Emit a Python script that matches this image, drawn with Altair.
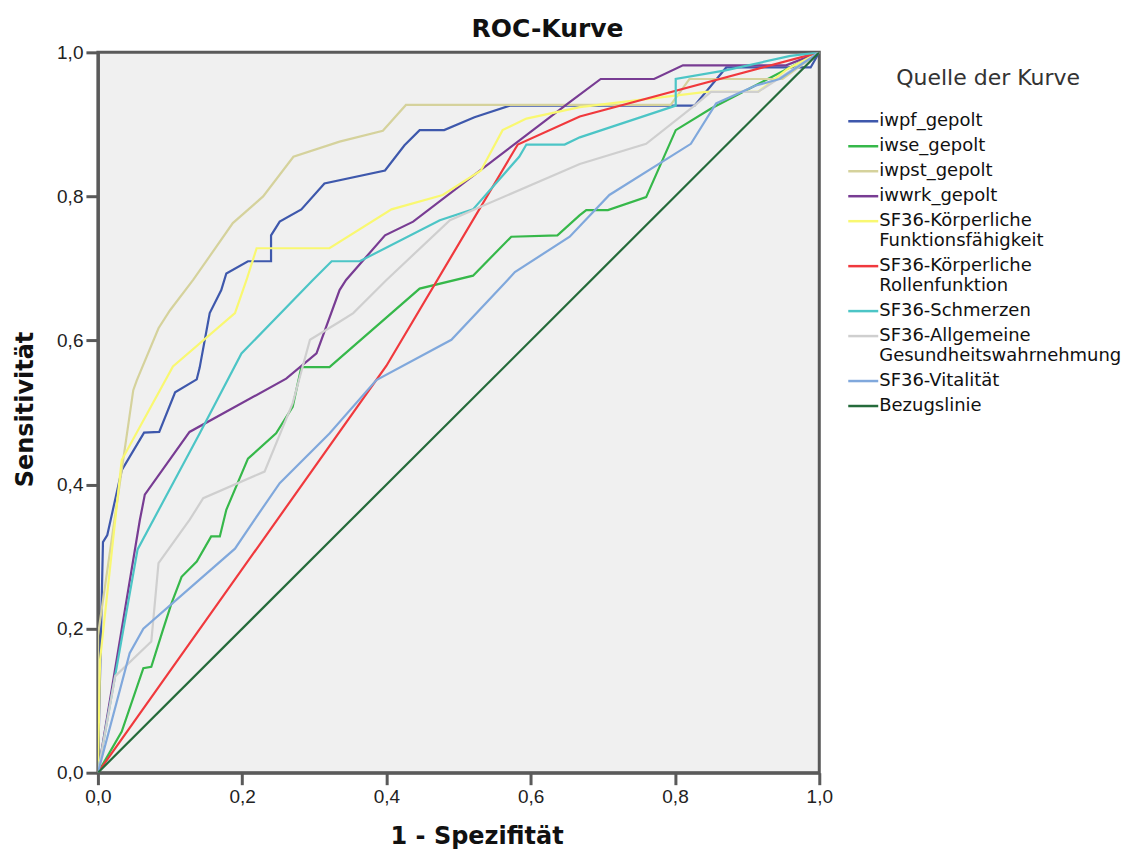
import altair as alt
import pandas as pd

# ---- data ----
series_names = [
    "iwpf_gepolt", "iwse_gepolt", "iwpst_gepolt", "iwwrk_gepolt",
    "SF36-Körperliche|Funktionsfähigkeit", "SF36-Körperliche|Rollenfunktion",
    "SF36-Schmerzen", "SF36-Allgemeine|Gesundheitswahrnehmung",
    "SF36-Vitalität", "Bezugslinie",
]
series_colors = ["#3e58ac", "#36b84a", "#d5d29c", "#783c93", "#f9f871",
                 "#f0393d", "#4cc5c6", "#cfcfcf", "#80a8dc", "#256b3b"]

iwpf_x = [0, 0.007, 0.013, 0.033, 0.064, 0.085, 0.107, 0.137, 0.141, 0.155, 0.171, 0.178, 0.208, 0.24, 0.24,
          0.252, 0.282, 0.314, 0.398, 0.425, 0.446, 0.48, 0.522, 0.571, 0.827, 0.871, 0.988, 1.0]
iwpf_y = [0, 0.32, 0.33, 0.42, 0.472, 0.473, 0.528, 0.546, 0.562, 0.638, 0.67, 0.693, 0.71, 0.71, 0.746,
          0.765, 0.782, 0.818, 0.836, 0.871, 0.892, 0.892, 0.91, 0.926, 0.926, 0.979, 0.979, 1.0]

iwse_x = [0, 0.033, 0.063, 0.074, 0.09, 0.102, 0.116, 0.137, 0.157, 0.169, 0.178, 0.208, 0.247, 0.27, 0.282,
          0.321, 0.446, 0.52, 0.573, 0.637, 0.668, 0.677, 0.707, 0.76, 0.801, 0.85, 1.0]
iwse_y = [0, 0.057, 0.145, 0.147, 0.198, 0.235, 0.272, 0.293, 0.328, 0.328, 0.365, 0.436, 0.471, 0.508, 0.563,
          0.563, 0.672, 0.69, 0.744, 0.746, 0.774, 0.781, 0.781, 0.799, 0.892, 0.922, 1.0]

iwpst_x = [0, 0, 0.021, 0.049, 0.054, 0.084, 0.1, 0.132, 0.187, 0.229, 0.271, 0.335, 0.395, 0.427, 0.794,
           0.82, 0.949, 1.0]
iwpst_y = [0, 0.19, 0.337, 0.531, 0.545, 0.617, 0.642, 0.684, 0.763, 0.80, 0.855, 0.876, 0.891, 0.927, 0.927,
           0.963, 0.963, 1.0]

iwwrk_x = [0, 0.058, 0.065, 0.127, 0.261, 0.303, 0.335, 0.344, 0.398, 0.437, 0.654, 0.697, 0.771, 0.811,
           0.954, 1.0]
iwwrk_y = [0, 0.35, 0.386, 0.473, 0.547, 0.582, 0.67, 0.684, 0.746, 0.765, 0.931, 0.963, 0.963, 0.982,
           0.982, 1.0]

funktion_x = [0, 0.003, 0.024, 0.033, 0.104, 0.19, 0.206, 0.22, 0.321, 0.407, 0.478, 0.531, 0.561, 0.594,
              0.668, 0.843, 0.915, 0.956, 1.0]
funktion_y = [0, 0.157, 0.351, 0.434, 0.564, 0.638, 0.684, 0.728, 0.728, 0.782, 0.802, 0.836, 0.892, 0.908,
              0.924, 0.945, 0.945, 0.977, 1.0]

rolle_x = [0, 0.4, 0.582, 0.668, 1.0]
rolle_y = [0, 0.565, 0.872, 0.911, 1.0]

schmerz_x = [0, 0.055, 0.141, 0.199, 0.298, 0.324, 0.363, 0.474, 0.52, 0.584, 0.594, 0.647, 0.668, 0.801,
             0.801, 0.87, 0.96, 1.0]
schmerz_y = [0, 0.31, 0.471, 0.582, 0.684, 0.71, 0.71, 0.767, 0.782, 0.855, 0.872, 0.872, 0.882, 0.926,
             0.963, 0.975, 0.995, 1.0]

allg_x = [0, 0.024, 0.074, 0.084, 0.127, 0.146, 0.231, 0.27, 0.294, 0.335, 0.354, 0.4, 0.488, 0.529, 0.668,
          0.76, 0.827, 0.85, 0.915, 1.0]
allg_y = [0, 0.134, 0.182, 0.291, 0.351, 0.381, 0.418, 0.513, 0.601, 0.626, 0.638, 0.684, 0.767, 0.785,
          0.845, 0.873, 0.926, 0.945, 0.945, 1.0]

vital_x = [0, 0.044, 0.063, 0.19, 0.217, 0.252, 0.321, 0.386, 0.49, 0.568, 0.578, 0.654, 0.709, 0.822,
           0.857, 0.912, 0.945, 1.0]
vital_y = [0, 0.166, 0.2, 0.311, 0.351, 0.402, 0.471, 0.545, 0.601, 0.684, 0.695, 0.744, 0.802, 0.873,
           0.929, 0.954, 0.963, 1.0]

bezug_x = [0, 1.0]
bezug_y = [0, 1.0]

tick_values = [0.0, 0.2, 0.4, 0.6, 0.8, 1.0]

# ---- build table ----
all_xy = [(iwpf_x, iwpf_y), (iwse_x, iwse_y), (iwpst_x, iwpst_y), (iwwrk_x, iwwrk_y),
          (funktion_x, funktion_y), (rolle_x, rolle_y), (schmerz_x, schmerz_y),
          (allg_x, allg_y), (vital_x, vital_y), (bezug_x, bezug_y)]
rows = []
for name, (xs, ys) in zip(series_names, all_xy):
    for i, (xv, yv) in enumerate(zip(xs, ys)):
        rows.append({"Quelle": name, "fpr": xv, "tpr": yv, "idx": i})
df = pd.DataFrame(rows)

label_expr = "replace(format(datum.value, '.1f'), '.', ',')"

chart = alt.Chart(df).mark_line(strokeWidth=2.2, clip=True).encode(
    x=alt.X("fpr:Q", scale=alt.Scale(domain=[0, 1], nice=False),
            axis=alt.Axis(values=tick_values, labelExpr=label_expr, labelFlush=False,
                          title="1 - Spezifität",
                          titleX=379, titleY=52, titleAlign="center", titleBaseline="top")),
    y=alt.Y("tpr:Q", scale=alt.Scale(domain=[0, 1], nice=False),
            axis=alt.Axis(values=tick_values, labelExpr=label_expr, labelFlush=False,
                          title="Sensitivität",
                          titleX=-65, titleY=357, titleAngle=270, titleAlign="center",
                          titleBaseline="alphabetic")),
    color=alt.Color("Quelle:N", scale=alt.Scale(domain=series_names, range=series_colors),
                    legend=alt.Legend(title="Quelle der Kurve", orient="none", legendX=757, legendY=16,
                                      labelExpr="split(datum.label, '|')",
                                      symbolType="M-3,0H3", symbolSize=100, symbolStrokeWidth=2.5,
                                      labelOffset=7, rowPadding=7, titlePadding=22,
                                      titleAnchor="middle", titleLimit=400)),
    order=alt.Order("idx:Q"),
).properties(
    width=722, height=721,
    title=alt.TitleParams("ROC-Kurve", font="DejaVu Sans", fontSize=25, fontWeight="bold",
                          anchor="middle", dx=89, offset=-24, baseline="bottom", color="#111"),
    autosize=alt.AutoSizeParams(type="none"),
    padding={"left": 90, "top": 44, "right": 312, "bottom": 78},
).configure_view(
    fill="#f0f0f0", stroke="#5a5a5a", strokeWidth=3,
).configure_axis(
    grid=False, domainColor="#5a5a5a", domainWidth=3, tickColor="#5a5a5a", tickWidth=3, tickSize=12,
    labelFont="Liberation Sans", labelFontSize=19, labelColor="#222", labelPadding=3,
    titleFont="DejaVu Sans", titleFontSize=24, titleFontWeight="bold", titleColor="#111",
).configure_legend(
    titleFont="DejaVu Sans", titleFontSize=22, titleFontWeight="normal", titleColor="#333",
    labelFont="DejaVu Sans", labelFontSize=18, labelColor="#111", labelLimit=400,
)

chart.save("out.html", embed_options={"renderer": "svg", "actions": False})
